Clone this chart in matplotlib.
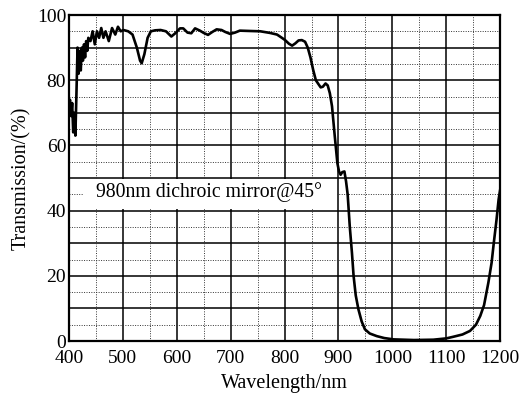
import numpy as np
import matplotlib
matplotlib.use("Agg")
import matplotlib.pyplot as plt
from matplotlib.ticker import MultipleLocator
from matplotlib.patches import Rectangle

plt.rcParams['font.family'] = ['Liberation Serif', 'DejaVu Serif']

# transmission curve
wavelength = [400, 402, 404, 406, 408, 410, 412, 414, 416, 418, 420, 422, 424, 426,
              428, 430, 432, 434, 436, 440, 444, 448, 452, 456, 460, 464, 468, 474,
              480, 486, 491, 496, 501, 510, 518, 526, 532, 535, 540, 546, 552, 560,
              570, 580, 590, 598, 606, 612, 620, 627, 634, 643, 650, 658, 666, 674,
              683, 690, 699, 708, 717, 735, 755, 773, 786, 795, 801, 808, 814, 820,
              826, 832, 838, 843, 848, 853, 858, 862, 867, 871, 876, 880, 884, 888,
              893, 898, 901, 904, 907, 911, 914, 917, 921, 925, 928, 932, 937, 943,
              949, 958, 971, 985, 1002, 1040, 1076, 1100, 1113, 1130, 1144, 1155,
              1163, 1170, 1178, 1184, 1188, 1193, 1197, 1200]
transmission = [72, 74, 69, 73, 64, 70, 63, 76, 90, 82, 89, 83, 90, 86,
                91, 87, 92, 89, 93, 92, 95, 91, 95, 93, 96, 93, 95, 92,
                96, 94, 96.4, 95, 95.4, 95, 94, 90, 86, 85.2, 88, 93, 95, 95.3,
                95.4, 95, 93.4, 94.5, 95.9, 95.9, 94.6, 94.4, 95.9, 95.2, 94.5, 93.9, 94.8, 95.6,
                95.4, 94.8, 94.2, 94.6, 95.2, 95.1, 95, 94.5, 94, 93, 92.3, 91.2, 90.6, 91.3,
                92.2, 92.3, 91.8, 90, 87, 83.2, 80, 79, 77.8, 78, 79, 78.4, 76, 72,
                63, 54.5, 52, 51, 51.8, 52, 49, 45, 35, 27, 20, 14, 9.7, 6,
                3.6, 2.3, 1.5, 0.9, 0.5, 0.3, 0.4, 0.8, 1.3, 2, 3.1, 5,
                7.7, 11, 17.9, 24, 30, 37, 43.4, 46.5]

x_ticks = [400, 500, 600, 700, 800, 900, 1000, 1100, 1200]
y_ticks = [0, 20, 40, 60, 80, 100]
label_text = "980nm dichroic mirror@45°"

fig = plt.figure(figsize=(5.26, 4.0), dpi=100)
ax = fig.add_axes([0.131, 0.1475, 0.82, 0.815])

ax.set_xlim(400, 1200)
ax.set_ylim(0, 100)
ax.set_xticks(x_ticks)
ax.set_yticks(y_ticks)
ax.xaxis.set_minor_locator(MultipleLocator(50))
ax.yaxis.set_minor_locator(MultipleLocator(5))

# solid grid every 100 nm / 10 %, dotted every 50 nm / 5 %
for xv in np.arange(500, 1200, 100):
    ax.axvline(xv, color='black', lw=1.1, zorder=1)
for yv in np.arange(10, 100, 10):
    ax.axhline(yv, color='black', lw=1.1, zorder=1)
for xv in np.arange(450, 1200, 100):
    ax.axvline(xv, color='#333333', lw=0.7, ls=(0, (1, 1.5)), zorder=1)
for yv in np.arange(5, 100, 10):
    ax.axhline(yv, color='#333333', lw=0.7, ls=(0, (1, 1.5)), zorder=1)

# white box behind the label
ax.add_patch(Rectangle((426, 40.4), 472, 9.2, facecolor='white', edgecolor='none', zorder=2))
ax.text(450, 45.8, label_text, fontsize=14.2, va='center', ha='left', zorder=3)

ax.plot(wavelength, transmission, color='black', lw=1.9, zorder=4)

for sp in ax.spines.values():
    sp.set_linewidth(1.6)
ax.tick_params(which='both', length=0, labelsize=14, pad=2)
ax.tick_params(axis='x', pad=6.5)

ax.set_xlabel('Wavelength/nm', fontsize=14.5, labelpad=5)
ax.set_ylabel('Transmission/(%)', fontsize=14.5, labelpad=4)

fig.savefig('out.png', dpi=100)
